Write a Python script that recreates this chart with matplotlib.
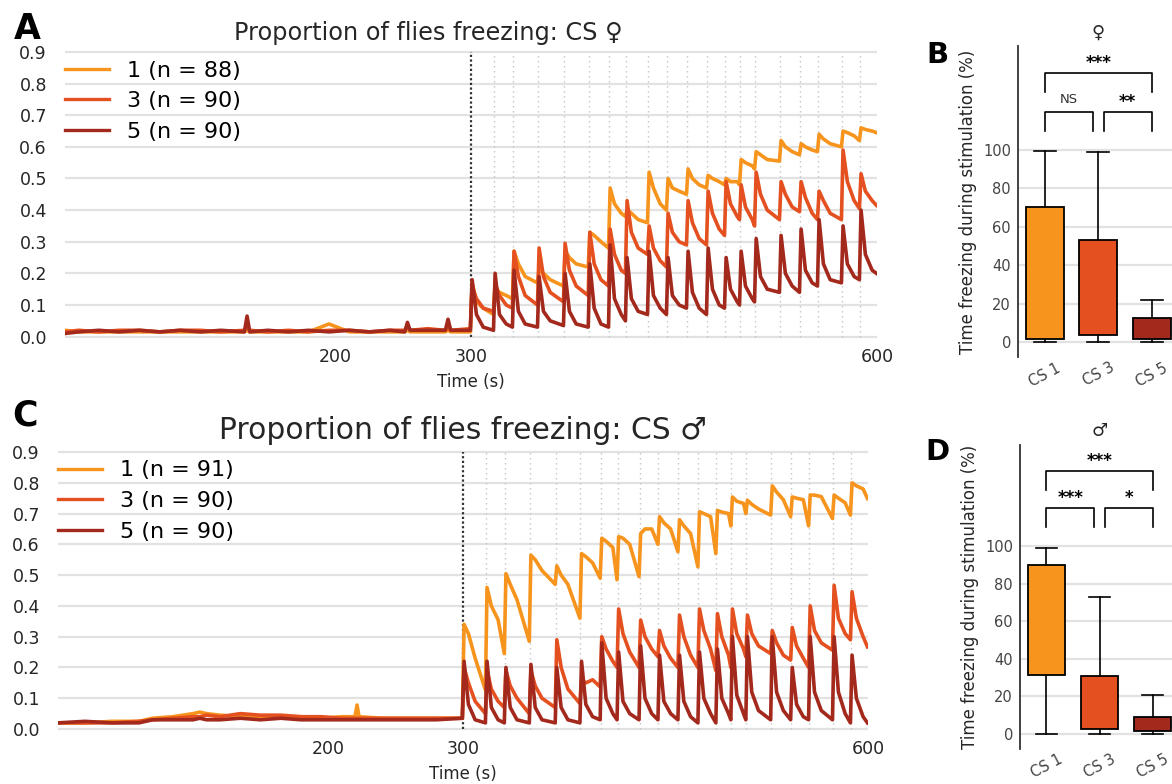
import matplotlib
matplotlib.use("Agg")
import matplotlib.pyplot as plt
from matplotlib.lines import Line2D

# ---------------- data ----------------
stim_onsets = [300.0, 317.0, 331.0, 349.5, 368.7, 387.0, 402.0, 414.5, 430.8, 444.8,
               459.6, 474.4, 487.7, 498.8, 509.9, 528.3, 543.1, 556.4, 574.1, 587.4]
session_end = 600.0

line_xticks = [200, 300, 600]
line_yticks = [0.0, 0.1, 0.2, 0.3, 0.4, 0.5, 0.6, 0.7, 0.8, 0.9]

colors = ["#F7941D", "#E4501F", "#A3291D"]
labels_fem = ["1 (n = 88)", "3 (n = 90)", "5 (n = 90)"]
labels_male = ["1 (n = 91)", "3 (n = 90)", "5 (n = 90)"]

# baseline (before stimulation) - females
pre_t_fem = [0, 10, 25, 40, 55, 70, 85, 100, 115, 132.5, 134.5, 136.5, 150, 165, 180, 195,
             210, 225, 240, 251, 253, 255, 268, 281, 283, 285, 299.5]
fem1_pre = [0.02, 0.015, 0.015, 0.015, 0.015, 0.015, 0.015, 0.015, 0.015, 0.015, 0.02, 0.015,
            0.015, 0.015, 0.015, 0.04, 0.015, 0.015, 0.015, 0.015, 0.02, 0.015, 0.015, 0.015,
            0.02, 0.015, 0.015]
fem3_pre = [0.015, 0.02, 0.015, 0.02, 0.02, 0.015, 0.02, 0.02, 0.015, 0.02, 0.03, 0.02,
            0.015, 0.02, 0.015, 0.02, 0.02, 0.015, 0.02, 0.02, 0.03, 0.02, 0.025, 0.02,
            0.03, 0.02, 0.025]
fem5_pre = [0.01, 0.015, 0.02, 0.015, 0.02, 0.015, 0.02, 0.015, 0.02, 0.015, 0.065, 0.015,
            0.02, 0.015, 0.02, 0.015, 0.02, 0.015, 0.02, 0.015, 0.045, 0.02, 0.02, 0.02,
            0.055, 0.02, 0.02]

# per stimulation cycle: peak, value 4 s later, value 9 s later, value just before next onset
fem1_peak = [0.17, 0.15, 0.27, 0.21, 0.27, 0.33, 0.47, 0.40, 0.52, 0.50, 0.53, 0.51, 0.50, 0.56, 0.585, 0.62, 0.61, 0.64, 0.65, 0.66]
fem1_mid = [0.11, 0.14, 0.23, 0.20, 0.25, 0.32, 0.42, 0.39, 0.47, 0.47, 0.50, 0.50, 0.49, 0.55, 0.575, 0.60, 0.60, 0.625, 0.645, 0.655]
fem1_late = [0.09, 0.13, 0.19, 0.18, 0.23, 0.30, 0.39, 0.37, 0.42, 0.46, 0.48, 0.49, 0.49, 0.54, 0.56, 0.585, 0.59, 0.61, 0.635, 0.65]
fem1_end = [0.07, 0.12, 0.17, 0.16, 0.22, 0.28, 0.38, 0.36, 0.40, 0.45, 0.47, 0.48, 0.48, 0.53, 0.555, 0.575, 0.585, 0.60, 0.62, 0.645]

fem3_peak = [0.16, 0.17, 0.27, 0.28, 0.295, 0.33, 0.34, 0.43, 0.35, 0.39, 0.43, 0.46, 0.49, 0.48, 0.52, 0.49, 0.49, 0.46, 0.59, 0.515]
fem3_mid = [0.12, 0.13, 0.19, 0.19, 0.21, 0.23, 0.26, 0.33, 0.28, 0.33, 0.36, 0.39, 0.42, 0.41, 0.45, 0.45, 0.44, 0.43, 0.49, 0.46]
fem3_late = [0.09, 0.10, 0.13, 0.14, 0.16, 0.18, 0.21, 0.28, 0.24, 0.30, 0.31, 0.34, 0.38, 0.37, 0.40, 0.41, 0.39, 0.39, 0.43, 0.43]
fem3_end = [0.08, 0.09, 0.10, 0.11, 0.13, 0.16, 0.20, 0.26, 0.22, 0.29, 0.29, 0.32, 0.37, 0.35, 0.37, 0.395, 0.37, 0.37, 0.405, 0.415]

fem5_peak = [0.18, 0.20, 0.21, 0.19, 0.20, 0.23, 0.29, 0.25, 0.27, 0.25, 0.27, 0.28, 0.25, 0.27, 0.31, 0.32, 0.34, 0.37, 0.35, 0.40]
fem5_mid = [0.07, 0.07, 0.08, 0.08, 0.08, 0.09, 0.12, 0.12, 0.13, 0.13, 0.14, 0.15, 0.15, 0.16, 0.19, 0.20, 0.21, 0.23, 0.23, 0.26]
fem5_late = [0.03, 0.04, 0.04, 0.05, 0.04, 0.04, 0.07, 0.08, 0.09, 0.10, 0.09, 0.10, 0.11, 0.12, 0.15, 0.16, 0.17, 0.18, 0.19, 0.21]
fem5_end = [0.02, 0.03, 0.03, 0.035, 0.03, 0.03, 0.05, 0.07, 0.07, 0.09, 0.07, 0.09, 0.10, 0.11, 0.14, 0.14, 0.16, 0.17, 0.18, 0.20]

# baseline (before stimulation) - males
pre_t_male = [0, 20, 40, 60, 70, 85, 100, 105, 110, 120, 135, 150, 165, 180, 195, 210, 220,
              221.5, 223, 240, 260, 280, 299.5]
male1_pre = [0.02, 0.02, 0.025, 0.025, 0.035, 0.04, 0.05, 0.055, 0.05, 0.045, 0.04, 0.04,
             0.04, 0.04, 0.035, 0.04, 0.04, 0.078, 0.04, 0.035, 0.035, 0.035, 0.035]
male3_pre = [0.02, 0.02, 0.02, 0.025, 0.03, 0.035, 0.04, 0.04, 0.045, 0.04, 0.05, 0.045,
             0.045, 0.04, 0.04, 0.035, 0.035, 0.035, 0.035, 0.035, 0.035, 0.035, 0.035]
male5_pre = [0.02, 0.025, 0.02, 0.02, 0.03, 0.03, 0.03, 0.035, 0.03, 0.03, 0.035, 0.03,
             0.035, 0.03, 0.03, 0.03, 0.03, 0.03, 0.03, 0.03, 0.03, 0.03, 0.035]

male1_peak = [0.34, 0.46, 0.505, 0.565, 0.53, 0.57, 0.62, 0.625, 0.635, 0.69, 0.68, 0.706, 0.71, 0.754, 0.743, 0.79, 0.754, 0.76, 0.76, 0.80]
male1_mid = [0.31, 0.40, 0.47, 0.55, 0.50, 0.56, 0.61, 0.62, 0.65, 0.67, 0.66, 0.70, 0.705, 0.74, 0.73, 0.77, 0.75, 0.76, 0.75, 0.79]
male1_late = [0.23, 0.355, 0.42, 0.515, 0.47, 0.54, 0.59, 0.60, 0.65, 0.65, 0.635, 0.69, 0.70, 0.733, 0.715, 0.745, 0.745, 0.755, 0.735, 0.78]
male1_end = [0.127, 0.245, 0.285, 0.47, 0.36, 0.49, 0.485, 0.495, 0.60, 0.576, 0.527, 0.57, 0.66, 0.70, 0.695, 0.69, 0.66, 0.684, 0.695, 0.749]

male3_peak = [0.20, 0.19, 0.19, 0.19, 0.29, 0.16, 0.30, 0.39, 0.354, 0.32, 0.37, 0.39, 0.375, 0.39, 0.37, 0.32, 0.33, 0.40, 0.467, 0.446]
male3_mid = [0.15, 0.13, 0.14, 0.14, 0.20, 0.15, 0.26, 0.31, 0.30, 0.27, 0.30, 0.32, 0.30, 0.31, 0.31, 0.28, 0.27, 0.32, 0.36, 0.36]
male3_late = [0.09, 0.09, 0.10, 0.10, 0.13, 0.16, 0.22, 0.25, 0.26, 0.23, 0.24, 0.26, 0.24, 0.26, 0.27, 0.24, 0.23, 0.28, 0.31, 0.30]
male3_end = [0.05, 0.07, 0.05, 0.07, 0.083, 0.137, 0.20, 0.20, 0.235, 0.20, 0.20, 0.19, 0.20, 0.235, 0.245, 0.224, 0.20, 0.256, 0.29, 0.267]

male5_peak = [0.22, 0.22, 0.20, 0.21, 0.20, 0.22, 0.28, 0.25, 0.27, 0.24, 0.24, 0.25, 0.26, 0.30, 0.30, 0.30, 0.20, 0.30, 0.30, 0.24]
male5_mid = [0.08, 0.07, 0.07, 0.07, 0.07, 0.08, 0.10, 0.09, 0.10, 0.09, 0.09, 0.10, 0.10, 0.11, 0.12, 0.12, 0.08, 0.12, 0.12, 0.10]
male5_late = [0.03, 0.03, 0.03, 0.03, 0.03, 0.04, 0.05, 0.05, 0.05, 0.05, 0.04, 0.05, 0.05, 0.05, 0.06, 0.06, 0.04, 0.06, 0.05, 0.04]
male5_end = [0.02, 0.02, 0.02, 0.02, 0.02, 0.03, 0.03, 0.03, 0.03, 0.03, 0.02, 0.02, 0.03, 0.03, 0.03, 0.03, 0.03, 0.03, 0.02, 0.02]

# box plot summaries: time freezing during stimulation (%)
box_categories = ["CS 1", "CS 3", "CS 5"]
fem_whislo = [0.0, 0.0, 0.0]
fem_q1 = [1.4, 3.6, 1.4]
fem_med = [40.0, 14.0, 4.5]
fem_q3 = [70.5, 53.0, 12.3]
fem_whishi = [99.6, 98.8, 21.9]

male_whislo = [0.0, 0.0, 0.0]
male_q1 = [31.2, 2.3, 1.6]
male_med = [71.4, 7.6, 3.9]
male_q3 = [89.6, 30.9, 8.8]
male_whishi = [98.8, 72.8, 20.6]

box_yticks = [0, 20, 40, 60, 80, 100]

# significance: (text, left group, right group)
sig_fem = [("NS", 0, 1), ("**", 1, 2), ("***", 0, 2)]
sig_male = [("***", 0, 1), ("*", 1, 2), ("***", 0, 2)]

TXT = "#262626"


def build_trace(pre_t, pre_v, peak, mid, late, end):
    t = list(pre_t)
    v = list(pre_v)
    stops = stim_onsets[1:] + [session_end]
    for on, stop, p, m, l, e in zip(stim_onsets, stops, peak, mid, late, end):
        t += [on + 0.8, on + 4.0, on + 9.0, stop - 0.4]
        v += [p, m, l, e]
    return t, v


def line_panel(ax, traces, labels, title, title_size, title_x):
    ax.set_xlim(0, session_end)
    ax.set_ylim(-0.01, 0.905)
    for s in ax.spines.values():
        s.set_visible(False)
    for y in line_yticks:
        ax.axhline(y, color="#e2e2e2", lw=1.6, zorder=0)
    ax.vlines(stim_onsets[1:], 0, 0.9, colors="#c4c4c4", lw=1.0,
              linestyles=(0, (1, 2.6)), zorder=1)
    ax.vlines([stim_onsets[0]], 0, 0.9, colors="#333333", lw=1.6,
              linestyles=(0, (1, 1.1)), zorder=1)
    handles = []
    for (t, v), c, lab in zip(traces, colors, labels):
        ax.plot(t, v, color=c, lw=2.6, zorder=3, solid_joinstyle="round")
        handles.append(Line2D([], [], color=c, lw=2.4, label=lab))
    ax.set_xticks(line_xticks)
    ax.set_yticks(line_yticks)
    ax.set_yticklabels([f"{y:.1f}" for y in line_yticks])
    ax.tick_params(axis="both", length=0, labelsize=12.5, colors=TXT)
    ax.tick_params(axis="y", pad=13)
    ax.tick_params(axis="x", pad=6)
    ax.set_xlabel("Time (s)", fontsize=12, color=TXT, labelpad=5)
    ax.grid(False)
    ax.legend(handles=handles, loc="upper left", bbox_to_anchor=(0.0, 0.965),
              frameon=False, fontsize=16, handlelength=2.0, handletextpad=0.8,
              labelspacing=0.48, borderaxespad=0.0, borderpad=0.0)
    ax.text(title_x, 1.02, title, transform=ax.transAxes, ha="center", va="bottom",
            fontsize=title_size, color=TXT)


def box_panel(ax, whislo, q1, med, q3, whishi, sigs, symbol):
    stats = []
    for lab, lo, a, m, b, hi in zip(box_categories, whislo, q1, med, q3, whishi):
        stats.append(dict(label=lab, whislo=lo, q1=a, med=m, q3=b, whishi=hi, fliers=[]))
    bp = ax.bxp(stats, positions=[0, 1, 2], widths=0.71, capwidths=0.41,
                patch_artist=True, showfliers=False,
                boxprops=dict(edgecolor="black", linewidth=1.3),
                medianprops=dict(color="black", linewidth=2.6),
                whiskerprops=dict(color="black", linewidth=1.2),
                capprops=dict(color="black", linewidth=1.2))
    for patch, c in zip(bp["boxes"], colors):
        patch.set_facecolor(c)
        patch.set_zorder(3)
    ax.set_xlim(-0.5, 2.5)
    ax.set_ylim(-8, 154)
    ax.set_yticks(box_yticks)
    ax.yaxis.grid(True, color="#e2e2e2", lw=1.6, zorder=0)
    ax.xaxis.grid(False)
    ax.set_axisbelow(True)
    for k in ("top", "right", "bottom"):
        ax.spines[k].set_visible(False)
    ax.spines["left"].set_color("#333333")
    ax.spines["left"].set_linewidth(1.3)
    ax.tick_params(axis="both", length=0, labelsize=10.5, colors="#444444")
    ax.tick_params(axis="y", pad=5)
    ax.tick_params(axis="x", pad=2)
    ax.set_xticks([0, 1, 2])
    ax.set_xticklabels(box_categories, rotation=28, ha="center")
    ax.set_ylabel("Time freezing during stimulation (%)", fontsize=12, color=TXT,
                  labelpad=4)
    for text, i, j in sigs:
        if j - i == 2:
            lo, hi, x1, x2 = 130, 140, i, j
        elif i == 0:
            lo, hi, x1, x2 = 110, 120, i, j - 0.1
        else:
            lo, hi, x1, x2 = 110, 120, i + 0.1, j
        ax.plot([x1, x1, x2, x2], [lo, hi, hi, lo], color="black", lw=1.2,
                clip_on=False)
        if text == "NS":
            ax.text((x1 + x2) / 2, hi + 3, text, ha="center", va="bottom",
                    fontsize=9.5, color="#333333")
        else:
            ax.text((x1 + x2) / 2, hi + 0.5, text, ha="center", va="bottom",
                    fontsize=12, fontweight="bold", color="black")
    ax.text(1, 161, symbol, ha="center", va="center", fontsize=13, color=TXT,
            clip_on=False)


fig = plt.figure(figsize=(11.72, 7.84), dpi=100)

axA = fig.add_axes([0.0555, 0.5666, 0.6928, 0.3691])
axC = fig.add_axes([0.0495, 0.0662, 0.6911, 0.3592])
axB = fig.add_axes([0.8686, 0.5441, 0.1369, 0.3968])
axD = fig.add_axes([0.8703, 0.0449, 0.1357, 0.3881])

traces_fem = [build_trace(pre_t_fem, fem1_pre, fem1_peak, fem1_mid, fem1_late, fem1_end),
              build_trace(pre_t_fem, fem3_pre, fem3_peak, fem3_mid, fem3_late, fem3_end),
              build_trace(pre_t_fem, fem5_pre, fem5_peak, fem5_mid, fem5_late, fem5_end)]
traces_male = [build_trace(pre_t_male, male1_pre, male1_peak, male1_mid, male1_late, male1_end),
               build_trace(pre_t_male, male3_pre, male3_peak, male3_mid, male3_late, male3_end),
               build_trace(pre_t_male, male5_pre, male5_peak, male5_mid, male5_late, male5_end)]

line_panel(axA, traces_fem, labels_fem, "Proportion of flies freezing: CS \u2640", 17.3, 0.447)
line_panel(axC, traces_male, labels_male, "Proportion of flies freezing: CS \u2642", 21.4, 0.5)

box_panel(axB, fem_whislo, fem_q1, fem_med, fem_q3, fem_whishi, sig_fem, "\u2640")
box_panel(axD, male_whislo, male_q1, male_med, male_q3, male_whishi, sig_male, "\u2642")

fig.text(27 / 1172, 1 - 29 / 784, "A", fontsize=25, fontweight="bold", ha="center", va="center")
fig.text(25 / 1172, 1 - 415 / 784, "C", fontsize=25, fontweight="bold", ha="center", va="center")
fig.text(937 / 1172, 1 - 55 / 784, "B", fontsize=21, fontweight="bold", ha="center", va="center")
fig.text(937 / 1172, 1 - 452 / 784, "D", fontsize=21, fontweight="bold", ha="center", va="center")

fig.savefig("out.png", dpi=100)
